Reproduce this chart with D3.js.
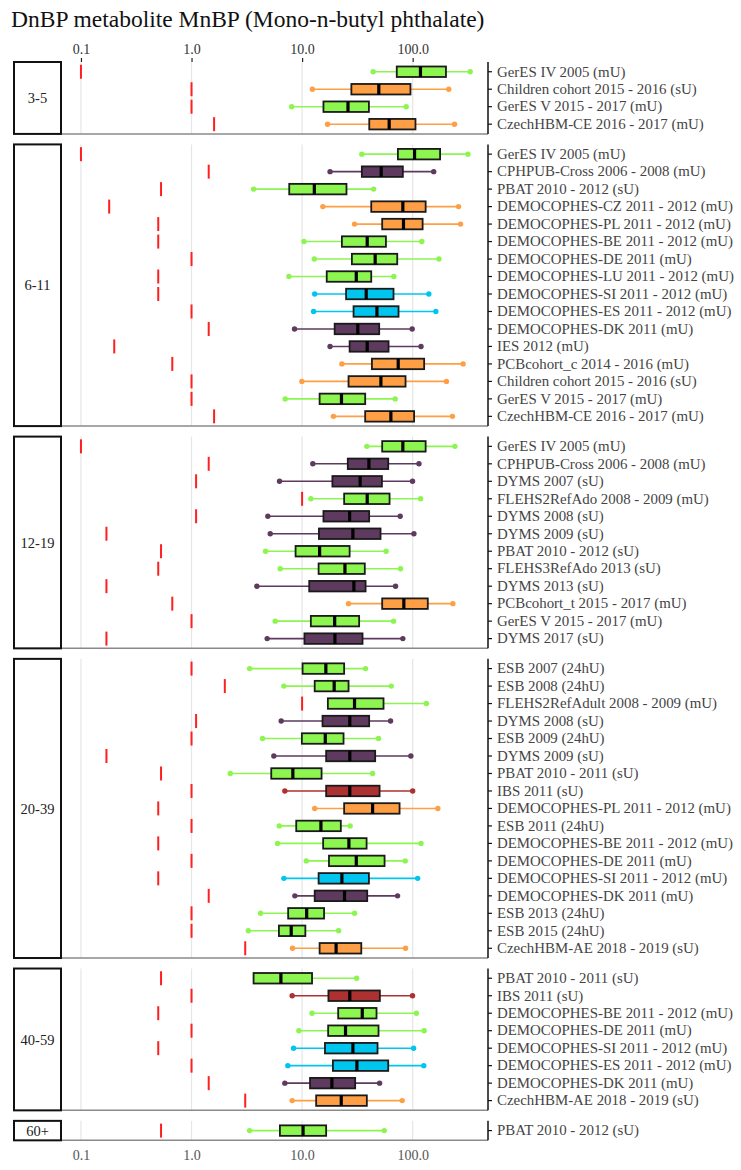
<!DOCTYPE html>
<html><head><meta charset="utf-8">
<script src="https://cdn.jsdelivr.net/npm/d3@7"></script>
<style>
body{margin:0;background:#fff}
svg{display:block}
text{font-family:"Liberation Serif","Times New Roman",serif}
</style>
</head><body>
<svg id="c" width="741" height="1170"></svg>
<script>
// ---------------- DATA ----------------
const title = "DnBP metabolite MnBP (Mono-n-butyl phthalate)";
const ageGroups = ["3-5","6-11","12-19","20-39","40-59","60+"];
const tickValues = [0.1, 1, 10, 100];
const tickLabels = ["0.1","1.0","10.0","100.0"];

const rowAge = [
  "3-5","3-5","3-5","3-5",
  "6-11","6-11","6-11","6-11","6-11","6-11","6-11","6-11","6-11","6-11","6-11","6-11","6-11","6-11","6-11","6-11",
  "12-19","12-19","12-19","12-19","12-19","12-19","12-19","12-19","12-19","12-19","12-19","12-19",
  "20-39","20-39","20-39","20-39","20-39","20-39","20-39","20-39","20-39","20-39","20-39","20-39","20-39","20-39","20-39","20-39","20-39",
  "40-59","40-59","40-59","40-59","40-59","40-59","40-59","40-59",
  "60+"
];
const studies = [
  "GerES IV 2005 (mU)","Children cohort 2015 - 2016 (sU)","GerES V 2015 - 2017 (mU)","CzechHBM-CE 2016 - 2017 (mU)",
  "GerES IV 2005 (mU)","CPHPUB-Cross 2006 - 2008 (mU)","PBAT 2010 - 2012 (sU)","DEMOCOPHES-CZ 2011 - 2012 (mU)",
  "DEMOCOPHES-PL 2011 - 2012 (mU)","DEMOCOPHES-BE 2011 - 2012 (mU)","DEMOCOPHES-DE 2011 (mU)","DEMOCOPHES-LU 2011 - 2012 (mU)",
  "DEMOCOPHES-SI 2011 - 2012 (mU)","DEMOCOPHES-ES 2011 - 2012 (mU)","DEMOCOPHES-DK 2011 (mU)","IES 2012 (mU)",
  "PCBcohort_c 2014 - 2016 (mU)","Children cohort 2015 - 2016 (sU)","GerES V 2015 - 2017 (mU)","CzechHBM-CE 2016 - 2017 (mU)",
  "GerES IV 2005 (mU)","CPHPUB-Cross 2006 - 2008 (mU)","DYMS 2007 (sU)","FLEHS2RefAdo 2008 - 2009 (mU)",
  "DYMS 2008 (sU)","DYMS 2009 (sU)","PBAT 2010 - 2012 (sU)","FLEHS3RefAdo 2013 (sU)",
  "DYMS 2013 (sU)","PCBcohort_t 2015 - 2017 (mU)","GerES V 2015 - 2017 (mU)","DYMS 2017 (sU)",
  "ESB 2007 (24hU)","ESB 2008 (24hU)","FLEHS2RefAdult 2008 - 2009 (mU)","DYMS 2008 (sU)",
  "ESB 2009 (24hU)","DYMS 2009 (sU)","PBAT 2010 - 2011 (sU)","IBS 2011 (sU)",
  "DEMOCOPHES-PL 2011 - 2012 (mU)","ESB 2011 (24hU)","DEMOCOPHES-BE 2011 - 2012 (mU)","DEMOCOPHES-DE 2011 (mU)",
  "DEMOCOPHES-SI 2011 - 2012 (mU)","DEMOCOPHES-DK 2011 (mU)","ESB 2013 (24hU)","ESB 2015 (24hU)",
  "CzechHBM-AE 2018 - 2019 (sU)",
  "PBAT 2010 - 2011 (sU)","IBS 2011 (sU)","DEMOCOPHES-BE 2011 - 2012 (mU)","DEMOCOPHES-DE 2011 (mU)",
  "DEMOCOPHES-SI 2011 - 2012 (mU)","DEMOCOPHES-ES 2011 - 2012 (mU)","DEMOCOPHES-DK 2011 (mU)","CzechHBM-AE 2018 - 2019 (sU)",
  "PBAT 2010 - 2012 (sU)"
];
// limit of detection / quantification
const lod = [
  0.1,1.0,1.0,1.6,
  0.1,1.43,0.53,0.18,0.5,0.5,1.0,0.5,0.5,1.0,1.43,0.2,0.67,1.0,1.0,1.6,
  0.1,1.43,1.1,10,1.1,0.17,0.53,0.5,0.17,0.67,1.0,0.17,
  1.0,2.0,10,1.1,1.0,0.17,0.53,1.0,0.5,1.0,0.5,1.0,0.5,1.43,1.0,1.0,3.06,
  0.53,1.0,0.5,1.0,0.5,1.0,1.43,3.06,
  0.53
];
const p5 = [
  43.9,12.4,8.05,17,
  34.7,17.9,3.64,15.4,29.8,10.4,12.9,7.6,13,12.7,8.54,17.9,22.9,9.95,7.03,19.2,
  38.5,12.5,6.25,12,4.9,5.15,4.67,6.34,3.9,26.3,5.71,4.83,
  3.35,6.84,null,6.47,4.39,5.55,2.24,6.98,13,6.21,6,10.9,6.84,8.6,4.21,3.26,8.19,
  null,8.13,12.3,9.35,8.37,7.43,6.98,8.13,
  3.35
];
const q1 = [
  71.8,27.9,15.6,40.5,
  73.5,34.7,7.65,42.2,53,22.9,28.2,16.7,25,29.2,19.7,26.9,42.8,26.3,14.4,37.2,
  53,25.9,18.8,24,15.6,14.2,8.73,14.1,11.6,53,12,10.5,
  10.1,13,17.1,15.3,9.95,16.5,5.26,16.5,24,8.85,15.5,17.5,14.1,13,7.48,6.17,14.4,
  3.64,17.3,21.2,17.2,16.1,19,11.8,13.4,
  6.3
];
const median = [
  117.6,49.4,26,61.3,
  104,51.9,12.9,81.5,82.6,38.8,45.8,30.9,38,47.5,31.9,38.8,74,51.6,22.7,63.5,
  81.5,40.2,33.5,38.8,26.9,28.8,14.4,24.4,29.4,83.2,19.7,19.8,
  16.4,19.5,29.8,27,16.2,27,8.25,27,43.4,14.8,26.5,30.9,22.9,24.2,11.0,7.97,20.3,
  6.43,27,35,24.7,28.8,31.3,18.6,22.6,
  10.2
];
const q3 = [
  200,95.5,40.2,106,
  177,81.5,25.2,131,123,57.3,72.5,42.2,67.1,74.5,49.8,60.5,127,86.2,37.2,103,
  131,60.1,52.7,61.8,40.4,51.2,26.9,36.9,37.5,137,32.8,35.2,
  24,26.3,54.5,40.4,23.7,45.8,15,50.2,76.1,22.4,38.3,55.7,40.2,38.8,15.8,10.7,34.3,
  12.3,50.5,47.1,49.1,48.1,60.1,30.2,38.5,
  16.5
];
const p95 = [
  331,212,87.4,239,
  316,155,44.3,260,271,121,173,67.6,140,162,99,119,286,202,69.5,229,
  241,114,99.7,118,77.1,102.6,57.6,77.7,70,231,67.1,81.5,
  37.5,64,133,63.1,49.1,96.3,43.4,100,169,27.2,119,85.6,111,73,29.8,21.4,86.2,
  31.1,99.7,108,127,102,126,50.2,80.4,
  55.3
];
const colorKey = [
  "g","o","g","o",
  "g","p","g","o","o","g","g","g","c","c","p","p","o","o","g","o",
  "g","p","p","g","p","p","g","g","p","o","g","p",
  "g","g","g","p","g","p","g","r","o","g","g","g","c","p","g","g","o",
  "g","r","g","g","c","c","p","o",
  "g"
];
const palette = {g:"#8cf550", o:"#ff9f45", p:"#5e3a5f", c:"#00c6ef", r:"#ad3131"};

// ---------------- LAYOUT ----------------
const svg = d3.select("#c");
const PL = 61, PR = 488, STEP = 17.48, PAD = 1.0, GAP = 10.5, TOP = 62;
const x = d3.scaleLog().domain([0.066, 480]).range([PL, PR]);

svg.append("text").attr("x", 11).attr("y", 27)
  .attr("font-size", 23.5).attr("fill", "#111").text(title);

const rows = studies.map((s, i) => ({i, s, age: rowAge[i], lod: lod[i], p5: p5[i], q1: q1[i], med: median[i], q3: q3[i], p95: p95[i], col: palette[colorKey[i]]}));

let y0 = TOP;
let lastBottom = 0;
ageGroups.forEach((ag, gi) => {
  const gr = rows.filter(r => r.age === ag);
  const n = gr.length;
  const h = n * STEP + 2 * PAD;
  const top = y0, bot = y0 + h;
  const y = d3.scaleBand().domain(gr.map(r => r.i)).range([top + PAD, bot - PAD]).padding(0);
  const g = svg.append("g");

  // gridlines
  g.selectAll("line.grid").data(tickValues).join("line")
    .attr("x1", d => x(d)).attr("x2", d => x(d)).attr("y1", top).attr("y2", bot)
    .attr("stroke", "#e6e6e6").attr("stroke-width", 1.2);

  // bottom baseline
  g.append("line").attr("x1", PL).attr("x2", PR).attr("y1", bot).attr("y2", bot)
    .attr("stroke", "#8a8a8a").attr("stroke-width", 1.5);

  // age label box
  g.append("rect").attr("x", 14).attr("y", top).attr("width", PL - 14).attr("height", h)
    .attr("fill", "#fff").attr("stroke", "#111").attr("stroke-width", 2);
  g.append("text").attr("x", (14 + PL) / 2).attr("y", (top + bot) / 2).attr("dy", "0.35em")
    .attr("text-anchor", "middle").attr("font-size", 14.5).attr("fill", "#222").text(ag);

  // right axis
  const ax = g.append("g").attr("transform", `translate(${PR},0)`)
    .call(d3.axisRight(y).tickSize(4).tickSizeOuter(0).tickPadding(5).tickFormat(i => studies[i]));
  ax.select(".domain").attr("stroke", "#111").attr("stroke-width", 1.5)
    .attr("d", `M0,${top}V${bot}`);
  ax.selectAll(".tick line").attr("stroke", "#111").attr("stroke-width", 1.2);
  ax.selectAll(".tick text").attr("font-size", 14.9).attr("fill", "#444")
    .attr("font-family", '"Liberation Serif","Times New Roman",serif');

  const cy = r => y(r.i) + y.bandwidth() / 2;
  const BH = 10.5;

  // LOD
  g.selectAll("line.lod").data(gr).join("line")
    .attr("x1", r => x(r.lod)).attr("x2", r => x(r.lod))
    .attr("y1", r => cy(r) - 7).attr("y2", r => cy(r) + 7)
    .attr("stroke", "#ff1f1f").attr("stroke-width", 2);

  // whiskers
  g.selectAll("line.wh").data(gr).join("line")
    .attr("x1", r => x(r.p5 == null ? r.q1 : r.p5)).attr("x2", r => x(r.p95))
    .attr("y1", cy).attr("y2", cy)
    .attr("stroke", r => r.col).attr("stroke-width", 1.6);
  g.selectAll("circle.lo").data(gr.filter(r => r.p5 != null)).join("circle")
    .attr("cx", r => x(r.p5)).attr("cy", cy).attr("r", 2.7).attr("fill", r => r.col);
  g.selectAll("circle.hi").data(gr).join("circle")
    .attr("cx", r => x(r.p95)).attr("cy", cy).attr("r", 2.7).attr("fill", r => r.col);

  // boxes
  g.selectAll("rect.box").data(gr).join("rect")
    .attr("x", r => x(r.q1)).attr("width", r => x(r.q3) - x(r.q1))
    .attr("y", r => cy(r) - BH / 2).attr("height", BH)
    .attr("fill", r => r.col).attr("stroke", "#1a1a1a").attr("stroke-width", 1.8);
  g.selectAll("rect.med").data(gr).join("rect")
    .attr("x", r => x(r.med) - 1.6).attr("width", 3.2)
    .attr("y", r => cy(r) - BH / 2).attr("height", BH)
    .attr("fill", "#000");

  lastBottom = bot;
  y0 = bot + GAP;
});

// top axis
const topAx = svg.append("g").attr("transform", `translate(0,${TOP})`)
  .call(d3.axisTop(x).tickValues(tickValues).tickFormat((d, i) => tickLabels[i]).tickSize(4).tickPadding(4));
topAx.select(".domain").remove();
topAx.selectAll(".tick line").attr("stroke", "#222").attr("stroke-width", 1.2);
topAx.selectAll(".tick text").attr("font-size", 14).attr("fill", "#333")
  .attr("font-family", '"Liberation Serif","Times New Roman",serif');

// bottom axis
const botAx = svg.append("g").attr("transform", `translate(0,${lastBottom})`)
  .call(d3.axisBottom(x).tickValues(tickValues).tickFormat((d, i) => tickLabels[i]).tickSize(0).tickPadding(10));
botAx.select(".domain").remove();
botAx.selectAll(".tick text").attr("font-size", 14).attr("fill", "#555")
  .attr("font-family", '"Liberation Serif","Times New Roman",serif');
</script>
</body></html>
